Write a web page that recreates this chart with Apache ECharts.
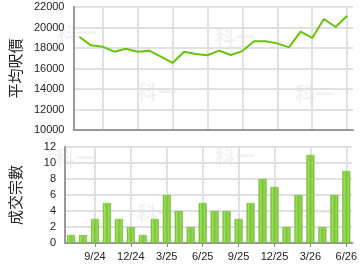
<!DOCTYPE html>
<html><head><meta charset="utf-8">
<script src="https://cdn.jsdelivr.net/npm/echarts@6/dist/echarts.min.js"></script>
<style>html,body{margin:0;padding:0;background:#fff}#c{width:360px;height:270px}</style>
</head><body><div id="c"></div>
<script>
var months = ['7/24','8/24','9/24','10/24','11/24','12/24','1/25','2/25','3/25','4/25','5/25','6/25','7/25','8/25','9/25','10/25','11/25','12/25','1/26','2/26','3/26','4/26','5/26','6/26'];
var avgPrice = [19100,18260,18130,17640,17930,17640,17740,17150,16540,17640,17420,17290,17740,17320,17700,18650,18650,18450,18060,19590,18980,20830,20050,21150];
var deals = [1,1,3,5,3,2,1,3,6,4,2,5,4,4,3,5,8,7,2,6,11,2,6,9];
var priceName = '平均呎價';
var dealsName = '成交宗數';
var watermark = '科一';

var font = 'Liberation Sans, Arial, sans-serif';
var labelIdx = function (i) { return i % 3 === 2; };
var plain = function (v) { return String(v); };
var gridLine = {show: true, lineStyle: {color: '#e0e0e0', width: 2}};
var chart = echarts.init(document.getElementById('c'), null, {renderer: 'canvas'});
var wm = [[57,23],[137,82],[215,27],[295,84],[55,148],[137,203],[215,146],[295,202]].map(function (p) {
  return {type: 'text', left: p[0], top: p[1], z: -1, style: {text: watermark, fill: '#f2f2f2', font: 'bold 20px Noto Sans CJK TC'}};
});
chart.setOption({
  animation: false,
  graphic: wm,
  grid: [
    {left: 65, right: 7, top: 7, height: 123},
    {left: 65, right: 7, top: 147, height: 96}
  ],
  xAxis: [
    {type: 'category', gridIndex: 0, data: months, boundaryGap: true,
     axisLine: {lineStyle: {color: '#999', width: 2}},
     axisTick: {show: false},
     axisLabel: {show: false},
     splitLine: {show: true, alignWithLabel: true, interval: labelIdx, lineStyle: {color: '#e0e0e0', width: 2}}},
    {type: 'category', gridIndex: 1, data: months, boundaryGap: true,
     axisLine: {lineStyle: {color: '#999', width: 2}},
     axisTick: {show: true, alignWithLabel: true, interval: labelIdx, length: 4, lineStyle: {color: '#888'}},
     axisLabel: {interval: labelIdx, color: '#222', fontSize: 11, fontFamily: font, margin: 8},
     splitLine: {show: true, alignWithLabel: true, interval: labelIdx, lineStyle: {color: '#e0e0e0', width: 2}}}
  ],
  yAxis: [
    {type: 'value', gridIndex: 0, min: 10000, max: 22000, interval: 2000,
     name: priceName, nameLocation: 'middle', nameGap: 42, nameRotate: 90,
     nameTextStyle: {fontSize: 15, color: '#222', fontFamily: 'Noto Sans CJK TC'},
     axisLine: {show: true, lineStyle: {color: '#999', width: 2}},
     axisTick: {show: false},
     axisLabel: {color: '#222', fontSize: 11, fontFamily: font, margin: 9, formatter: plain},
     splitLine: gridLine},
    {type: 'value', gridIndex: 1, min: 0, max: 12, interval: 2,
     name: dealsName, nameLocation: 'middle', nameGap: 42, nameRotate: 90,
     nameTextStyle: {fontSize: 15, color: '#222', fontFamily: 'Noto Sans CJK TC'},
     axisLine: {show: true, lineStyle: {color: '#999', width: 2}},
     axisTick: {show: false},
     axisLabel: {color: '#222', fontSize: 11, fontFamily: font, margin: 9, formatter: plain},
     splitLine: gridLine}
  ],
  series: [
    {type: 'line', xAxisIndex: 0, yAxisIndex: 0, data: avgPrice, symbol: 'none',
     lineStyle: {color: '#66c40a', width: 2}},
    {type: 'bar', xAxisIndex: 1, yAxisIndex: 1, data: deals, barWidth: 8,
     itemStyle: {
       color: new echarts.graphic.LinearGradient(0, 0, 1, 0, [
         {offset: 0, color: '#5fae1c'},
         {offset: 0.2, color: '#a4dc66'},
         {offset: 0.5, color: '#78c834'},
         {offset: 0.8, color: '#9ad85a'},
         {offset: 1, color: '#5fae1c'}
       ]),
       borderColor: '#6ab828', borderWidth: 0.5
     }}
  ]
});
</script></body></html>
